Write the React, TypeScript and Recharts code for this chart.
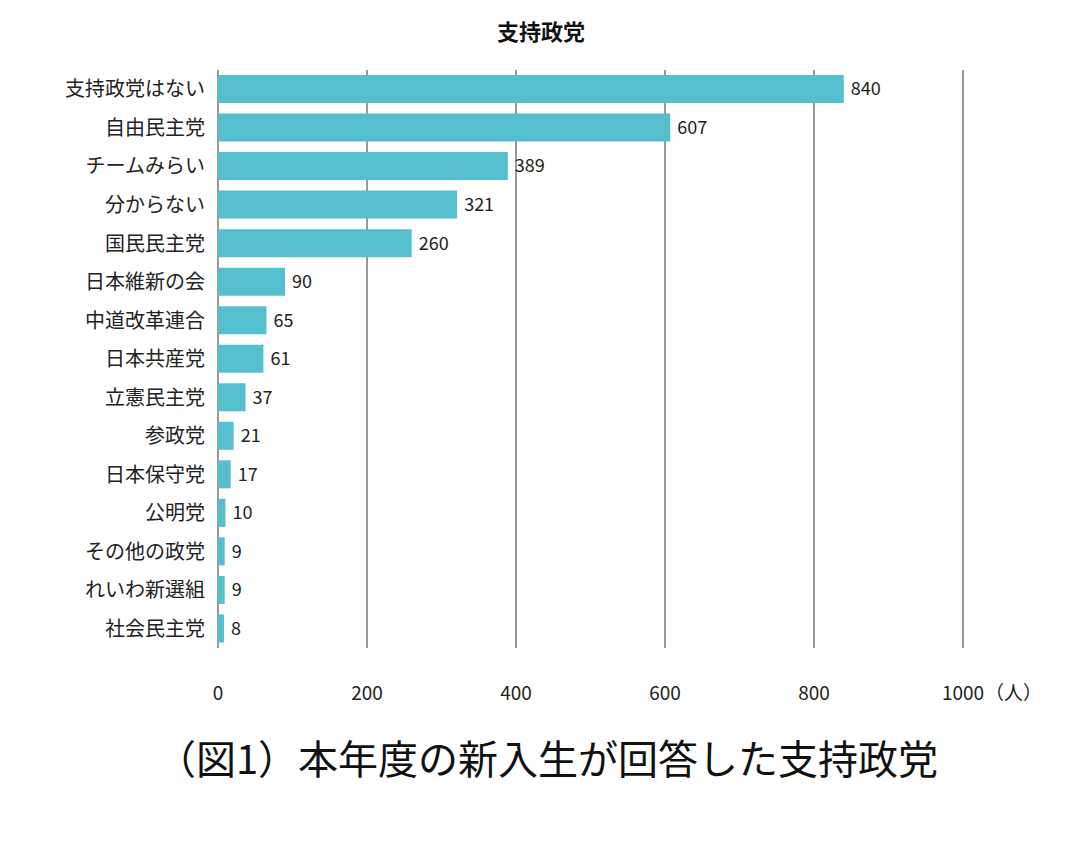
import React from "react";
import { BarChart, Bar, XAxis, YAxis, CartesianGrid, LabelList } from "recharts";

const parties = [
  "支持政党はない", "自由民主党", "チームみらい", "分からない", "国民民主党",
  "日本維新の会", "中道改革連合", "日本共産党", "立憲民主党", "参政党",
  "日本保守党", "公明党", "その他の政党", "れいわ新選組", "社会民主党",
];
const counts = [840, 607, 389, 321, 260, 90, 65, 61, 37, 21, 17, 10, 9, 9, 8];
const xTicks = [0, 200, 400, 600, 800, 1000];

const data = parties.map((name, i) => ({ name, value: counts[i] }));
const FONT = '"Noto Sans CJK JP", "Noto Sans", sans-serif';

function XTick({ x, y, payload }: any) {
  return (
    <g>
      <text x={x} y={y} dy={14} textAnchor="middle" fontSize={19} fill="#222" fontFamily={FONT}>
        {payload.value}
      </text>
      {payload.value === 1000 && (
        <text x={x + 22} y={y} dy={14} fontSize={19} fill="#222" fontFamily={FONT}>（人）</text>
      )}
    </g>
  );
}

export default function App() {
  return (
    <div style={{ position: "absolute", left: 0, top: 0, width: 1080, height: 841, background: "#fff", fontFamily: FONT }}>
      <div style={{ position: "absolute", top: 14, width: 1082, textAlign: "center", fontSize: 22, fontWeight: 700, color: "#111" }}>
        支持政党
      </div>
      <BarChart
        width={1080}
        height={841}
        data={data}
        layout="vertical"
        margin={{ top: 70, right: 117, bottom: 153, left: 0 }}
      >
        <CartesianGrid horizontal={false} vertical stroke="#555" strokeWidth={1.2} />
        <XAxis
          type="number"
          domain={[0, 1000]}
          ticks={xTicks}
          axisLine={false}
          tickLine={false}
          tick={<XTick />}
          tickMargin={32}
          height={40}
        />
        <YAxis
          type="category"
          dataKey="name"
          width={218}
          axisLine={false}
          tickLine={false}
          tickMargin={7}
          tick={{ fontSize: 20, fill: "#222", fontFamily: FONT }}
        />
        <Bar dataKey="value" fill="#56BFCE" barSize={28} isAnimationActive={false}>
          <LabelList dataKey="value" position="right" offset={7} fontSize={18} fill="#222" fontFamily={FONT} />
        </Bar>
      </BarChart>
      <div style={{ position: "absolute", top: 728, width: 1094, textAlign: "center", fontSize: 40, color: "#111" }}>
        （図1）本年度の新入生が回答した支持政党
      </div>
    </div>
  );
}
